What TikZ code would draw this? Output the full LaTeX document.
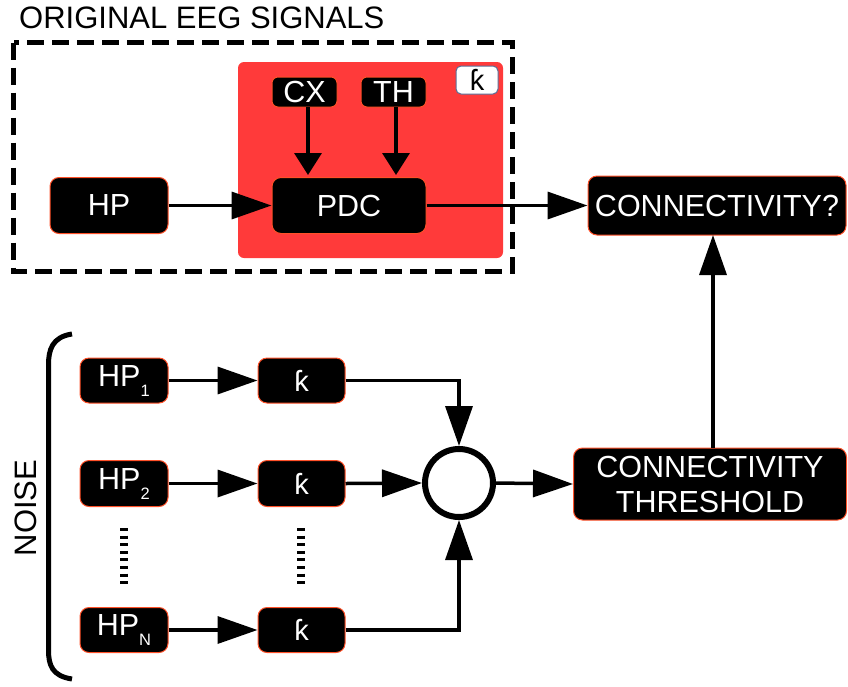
\documentclass[tikz,border=0pt]{standalone}
\usepackage{fontspec}
\setmainfont{Liberation Sans}
\usetikzlibrary{arrows.meta}
\definecolor{redbg}{RGB}{255,58,58}
\definecolor{edgec}{RGB}{255,80,40}
\definecolor{kedge}{RGB}{90,110,150}
\newcommand{\hpsub}[1]{HP\raisebox{-10pt}{\fontsize{16.5}{16.5}\selectfont #1}}
\begin{document}
\begin{tikzpicture}[x=1pt,y=-1pt,
  blk/.style={draw=edgec, line width=1pt, fill=black, rounded corners=9pt, text=white,
    font=\fontsize{30.5}{35}\selectfont, inner sep=0pt},
  arr/.style={line width=3.5pt, -{Triangle[length=40pt,width=27pt]}},
  sarr/.style={line width=3.5pt, -{Triangle[length=22pt,width=27pt]}},
  kfont/.style={font=\fontsize{29}{32}\selectfont}]
\useasboundingbox (0,0) rectangle (848,686);

% title
\node[anchor=west, font=\fontsize{31}{35}\selectfont, inner sep=0pt] (title) at (19,18) {ORIGINAL EEG SIGNALS};

% dashed box
\draw[line width=5pt, dash pattern=on 17pt off 8pt] (13.5,42.5) rectangle (512.5,271);

% red box
\fill[redbg, rounded corners=6pt] (238,62) rectangle (503,258);

% k box
\node[draw=kedge, line width=1pt, fill=white, rounded corners=5pt, minimum width=42pt, minimum height=28pt,
  inner sep=0pt, kfont] (kb) at (477,80) {ƙ};

% top nodes
\node[blk, minimum width=65pt, minimum height=30pt, rounded corners=6pt] (cx) at (304.5,92) {CX};
\node[blk, minimum width=65pt, minimum height=30pt, rounded corners=6pt] (th) at (393.5,92) {TH};
\node[blk, minimum width=154pt, minimum height=56pt] (pdc) at (349,205.5) {PDC};
\node[blk, minimum width=118pt, minimum height=56pt] (hp) at (109,205.5) {HP};
\node[blk, minimum width=258pt, minimum height=59pt] (conn) at (717,205.5) {CONNECTIVITY?};

% bottom nodes
\node[blk, minimum width=88pt, minimum height=45pt] (hp1) at (124,380.5) {\hpsub{1}};
\node[blk, minimum width=88pt, minimum height=46pt] (hp2) at (124,483.5) {\hpsub{2}};
\node[blk, minimum width=88pt, minimum height=45pt] (hpn) at (124,630) {\hpsub{N}};
\node[blk, minimum width=87pt, minimum height=45pt, kfont] (k1) at (301.5,380.5) {ƙ};
\node[blk, minimum width=87pt, minimum height=46pt, kfont] (k2) at (301.5,483.5) {ƙ};
\node[blk, minimum width=87pt, minimum height=45pt, kfont] (kn) at (301.5,630) {ƙ};
\node[draw=black, fill=white, line width=6pt, circle, minimum size=68pt, inner sep=0pt] (sum) at (459,483) {};
\node[blk, minimum width=273pt, minimum height=72pt, align=center] (thr) at (710,484) {CONNECTIVITY\\THRESHOLD};

% dotted separators
\draw[line width=8pt, dash pattern=on 3pt off 4.6pt] (124,528) -- (124,585);
\draw[line width=8pt, dash pattern=on 3pt off 4.6pt] (301,528) -- (301,585);

% noise bracket
\draw[line width=5pt] (72,334) .. controls (52,337) and (48.5,350) .. (48.5,365) -- (48.5,650)
  .. controls (48.5,665) and (52,676) .. (72,679);
\node[rotate=90, font=\fontsize{31}{35}\selectfont, inner sep=0pt] (noise) at (26,508) {NOISE};

% connectors
\draw[arr] (hp.east) -- (pdc.west);
\draw[arr] (pdc.east) -- (conn.west);
\draw[sarr] (308,107) -- (308,175);
\draw[sarr] (396,107) -- (396,175);
\draw[arr] (hp1.east) -- (k1.west);
\draw[arr] (hp2.east) -- (k2.west);
\draw[arr] (hpn.east) -- (kn.west);
\draw[arr] (k1.east) -| (sum.north);
\draw[arr] (k2.east) -- (sum.west);
\draw[arr] (kn.east) -| (sum.south);
\draw[arr] (sum.east) -- (thr.west);
\draw[arr] (thr.north -| 713,0) -- (713,235);
\end{tikzpicture}
\end{document}
